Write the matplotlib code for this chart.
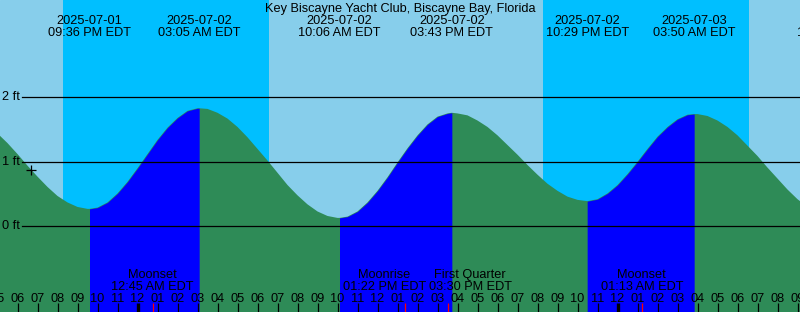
import datetime as dt
import matplotlib
matplotlib.use("Agg")
import matplotlib.pyplot as plt
import matplotlib.transforms as mtransforms

plt.rcParams['font.family'] = ['Liberation Sans', 'DejaVu Sans']
FS = 9.2

# --- data ----------------------------------------------------------------
title = "Key Biscayne Yacht Club, Biscayne Bay, Florida"

# water level (ft) every half hour, starting 2025-07-01 17:00 EDT
level_start = dt.datetime(2025, 7, 1, 17, 0)
levels = [1.44, 1.29, 1.12, 0.94, 0.77, 0.61, 0.47, 0.37, 0.30, 0.27,
          0.29, 0.37, 0.51, 0.69, 0.90, 1.12, 1.34, 1.53, 1.68, 1.79,
          1.83, 1.82, 1.76, 1.67, 1.54, 1.38, 1.20, 1.02, 0.83, 0.64,
          0.48, 0.34, 0.23, 0.16, 0.13, 0.15, 0.23, 0.37, 0.55, 0.76,
          0.99, 1.21, 1.41, 1.58, 1.70, 1.75, 1.75, 1.72, 1.64, 1.54,
          1.41, 1.26, 1.11, 0.95, 0.80, 0.66, 0.55, 0.46, 0.41, 0.39,
          0.42, 0.51, 0.64, 0.81, 1.00, 1.20, 1.39, 1.54, 1.66, 1.73,
          1.74, 1.71, 1.64, 1.54, 1.41, 1.25, 1.09, 0.91, 0.74, 0.57,
          0.42, 0.30]

# low / high tides (alternating, starting with a low)
tide_times = ["2025-07-01 21:36", "2025-07-02 03:05", "2025-07-02 10:06",
              "2025-07-02 15:43", "2025-07-02 22:29", "2025-07-03 03:50",
              "2025-07-03 11:02"]
tide_levels = [0.27, 1.83, 0.13, 1.76, 0.39, 1.74, 0.12]

sunsets = ["2025-07-01 20:16", "2025-07-02 20:16"]
sunrises = ["2025-07-02 06:35", "2025-07-03 06:35"]

moon_names = ["Moonset", "Moonrise", "First Quarter", "Moonset"]
moon_times = ["2025-07-02 00:45", "2025-07-02 13:22", "2025-07-02 15:30",
              "2025-07-03 01:13"]

now_time = "2025-07-01 18:40"
now_level = 0.88

ft_lines = [0, 1, 2]

# --- helpers -------------------------------------------------------------
ref = dt.datetime(2025, 7, 2, 0, 0)
W, H = 800, 312


def parse(s):
    return dt.datetime.strptime(s, "%Y-%m-%d %H:%M")


def hrs(d):
    return (d - ref).total_seconds() / 3600.0


def fy(py):
    # pixel row -> axes fraction
    return 1 - py / H


t_lev = [hrs(level_start) + 0.5 * i for i in range(len(levels))]
t_tide = [hrs(parse(s)) for s in tide_times]
pts = sorted(list(zip(t_lev, levels)) + list(zip(t_tide, tide_levels)))
tt = [p[0] for p in pts]
hh = [p[1] for p in pts]

x0, x1 = -6.875, 33.125
y_per_px = 1 / 64.5
ybot = -(H - 226.3) * y_per_px
ytop = 226.3 * y_per_px

fig = plt.figure(figsize=(W / 100, H / 100), dpi=100)
ax = fig.add_axes([0, 0, 1, 1])
ax.set_xlim(x0, x1)
ax.set_ylim(ybot, ytop)
ax.axis('off')
ax.add_patch(plt.Rectangle((x0, ybot), x1 - x0, ytop - ybot,
                           color='#87CEEB', zorder=0))

# night
for ss, sr in zip(sunsets, sunrises):
    ax.axvspan(hrs(parse(ss)), hrs(parse(sr)), color='#00BFFF', lw=0, zorder=1)

# water: ebb everywhere, flood on rising stretches
ax.fill_between(tt, hh, ybot, color='#2E8B57', lw=0, zorder=2)
for lo, hi in zip(t_tide[0::2], t_tide[1::2]):
    sel = [(t, h) for t, h in pts if lo <= t <= hi]
    ax.fill_between([s[0] for s in sel], [s[1] for s in sel], ybot,
                    color='#0000FF', lw=0, zorder=3)

# level lines
ytrans = mtransforms.blended_transform_factory(ax.transAxes, ax.transData)
for v in ft_lines:
    ax.axhline(v, xmin=22 / W, xmax=1, color='black', lw=0.9, zorder=4)
    ax.text(2.5 / W, v, f"{v} ft", transform=ytrans,
            ha='left', va='center', fontsize=FS, zorder=6)

ax.plot([hrs(parse(now_time))], [now_level], marker='+', ms=6.5, mew=0.9,
        color='black', zorder=6)

trans = mtransforms.blended_transform_factory(ax.transData, ax.transAxes)

# title and tide labels
ax.text(0.5, fy(12), title, transform=ax.transAxes, ha='center',
        va='baseline', fontsize=FS, zorder=6)
for s in tide_times:
    d = parse(s)
    t = hrs(d)
    ax.text(t, fy(24), d.strftime("%Y-%m-%d"), transform=trans,
            ha='center', va='baseline', fontsize=FS, zorder=6)
    ax.text(t, fy(36), d.strftime("%I:%M %p EDT"), transform=trans,
            ha='center', va='baseline', fontsize=FS, zorder=6)

# hour ticks and labels
h = int(x0) - 1
while h <= x1 + 1:
    midnight = h % 24 == 0
    ax.plot([h, h], [0, 9 / H], transform=trans, color='black',
            lw=2.4 if midnight else 0.9, solid_capstyle='butt', zorder=5)
    lab = (ref + dt.timedelta(hours=h)).strftime("%I")
    ax.text(h, fy(302), lab, transform=trans, ha='center', va='baseline',
            fontsize=FS, zorder=6)
    h += 1

# moon events
mt = [hrs(parse(s)) for s in moon_times]
for t in mt:
    ax.plot([t, t], [0, 9 / H], transform=trans, color='red', lw=0.9,
            solid_capstyle='butt', zorder=5)
# the two close events are pushed apart so their labels meet in the middle
mid = (mt[1] + mt[2]) / 2
places = [(mt[0], 'center'), (mid, 'right'), (mid + 0.12, 'left'), (mt[3], 'center')]
renderer = fig.canvas.get_renderer()
for name, s, (px, ha) in zip(moon_names, moon_times, places):
    d = parse(s)
    tx = ax.text(px, fy(290), d.strftime("%I:%M %p EDT"), transform=trans,
                 ha=ha, va='baseline', fontsize=FS, zorder=6)
    bb = tx.get_window_extent(renderer)
    cx = ax.transData.inverted().transform(((bb.x0 + bb.x1) / 2, 0))[0]
    ax.text(cx, fy(278), name, transform=trans, ha='center', va='baseline',
            fontsize=FS, zorder=6)

fig.savefig("out.png", dpi=100)
